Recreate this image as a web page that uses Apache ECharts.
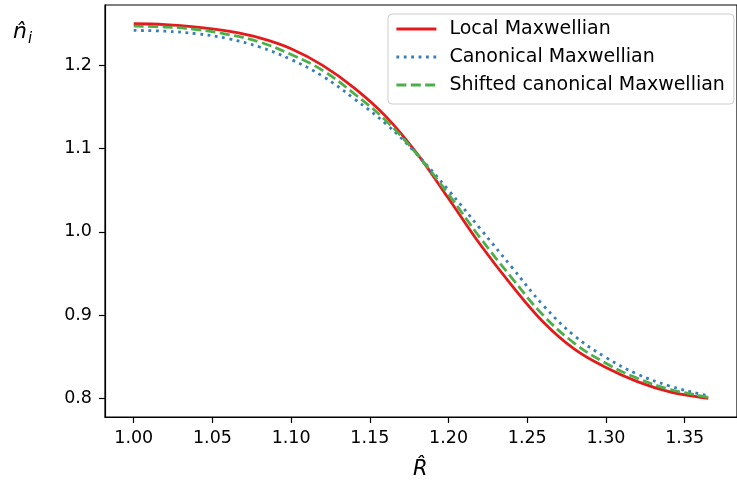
<!DOCTYPE html>
<html>
<head>
<meta charset="utf-8">
<script src="https://cdn.jsdelivr.net/npm/echarts@6/dist/echarts.min.js"></script>
<style>
html,body{margin:0;padding:0;background:#fff;}
#chart{width:737px;height:482px;}
</style>
</head>
<body>
<div id="chart"></div>
<script>
// ---- data ----
const R = [1.00, 1.02, 1.04, 1.06, 1.08, 1.10, 1.12, 1.14, 1.16, 1.18, 1.20, 1.22, 1.24, 1.26, 1.28, 1.30, 1.32, 1.34, 1.36, 1.365];
const localMaxwellian = [1.250, 1.249, 1.246, 1.241, 1.233, 1.220, 1.200, 1.173, 1.139, 1.094, 1.040, 0.985, 0.936, 0.892, 0.859, 0.837, 0.820, 0.808, 0.801, 0.800];
const canonicalMaxwellian = [1.242, 1.241, 1.238, 1.232, 1.222, 1.207, 1.187, 1.160, 1.130, 1.093, 1.050, 1.004, 0.958, 0.912, 0.875, 0.849, 0.829, 0.815, 0.805, 0.803];
const shiftedCanonical = [1.247, 1.246, 1.243, 1.237, 1.228, 1.213, 1.194, 1.166, 1.134, 1.093, 1.045, 0.993, 0.945, 0.900, 0.866, 0.842, 0.824, 0.811, 0.803, 0.801];
const seriesNames = ['Local Maxwellian', 'Canonical Maxwellian', 'Shifted canonical Maxwellian'];
const xTicks = [1.00, 1.05, 1.10, 1.15, 1.20, 1.25, 1.30, 1.35];
const yTicks = [0.8, 0.9, 1.0, 1.1, 1.2];

const zip = ys => R.map((x, i) => [x, ys[i]]);
const FONT = 'DejaVu Sans';

const chart = echarts.init(document.getElementById('chart'), null, {renderer: 'canvas'});
chart.setOption({
  animation: false,
  backgroundColor: '#ffffff',
  grid: {left: 105, top: 5, width: 637, height: 412, show: true, borderColor: '#000', borderWidth: 1.2, containLabel: false},
  xAxis: {
    type: 'value', min: 0.98175, max: 1.38325,
    axisLine: {show: true, onZero: false, lineStyle: {color: '#000', width: 1.2}},
    axisTick: {show: true, length: 6, lineStyle: {color: '#000', width: 1.2}, customValues: xTicks},
    axisLabel: {color: '#000', fontFamily: FONT, fontSize: 17.5, margin: 12, customValues: xTicks, formatter: v => v.toFixed(2)},
    splitLine: {show: false}
  },
  yAxis: {
    type: 'value', min: 0.7775, max: 1.2725,
    axisLine: {show: true, onZero: false, lineStyle: {color: '#000', width: 1.2}},
    axisTick: {show: true, length: 6, lineStyle: {color: '#000', width: 1.2}, customValues: yTicks},
    axisLabel: {color: '#000', fontFamily: FONT, fontSize: 17.5, margin: 13, customValues: yTicks, formatter: v => v.toFixed(1)},
    splitLine: {show: false}
  },
  legend: {
    orient: 'vertical', left: 388, top: 14,
    padding: [5, 9, 9, 7],
    itemWidth: 40, itemHeight: 10, itemGap: 8,
    backgroundColor: 'rgba(255,255,255,0.8)',
    borderColor: '#cccccc', borderWidth: 1, borderRadius: 4,
    itemStyle: {opacity: 0},
    lineStyle: {width: 2.8},
    textStyle: {fontFamily: FONT, fontSize: 19, color: '#000', lineHeight: 20, padding: [0, 0, 0, 8]},
    data: seriesNames
  },
  series: [
    {name: seriesNames[0], type: 'line', data: zip(localMaxwellian), showSymbol: false, symbol: 'none', smooth: 0.4, z: 3,
     lineStyle: {color: '#e41a1c', width: 2.8, type: 'solid'}, itemStyle: {color: '#e41a1c'}},
    {name: seriesNames[1], type: 'line', data: zip(canonicalMaxwellian), showSymbol: false, symbol: 'none', smooth: 0.4, z: 4,
     lineStyle: {color: '#377eb8', width: 2.8, type: [2.8, 4.6], cap: 'butt'}, itemStyle: {color: '#377eb8'}},
    {name: seriesNames[2], type: 'line', data: zip(shiftedCanonical), showSymbol: false, symbol: 'none', smooth: 0.4, z: 5,
     lineStyle: {color: '#4daf4a', width: 2.8, type: [10, 4.4], cap: 'butt'}, itemStyle: {color: '#4daf4a'}}
  ],
  graphic: [
    {type: 'text', left: 13, top: 21, style: {text: 'n\u0302', font: 'italic 22px "DejaVu Sans"', fill: '#000'}},
    {type: 'text', left: 28, top: 32, style: {text: 'i', font: 'italic 15px "DejaVu Sans"', fill: '#000'}},
    {type: 'text', left: 413, top: 459, style: {text: 'R\u0302', font: 'italic 21px "DejaVu Sans"', fill: '#000'}}
  ]
});
</script>
</body>
</html>
